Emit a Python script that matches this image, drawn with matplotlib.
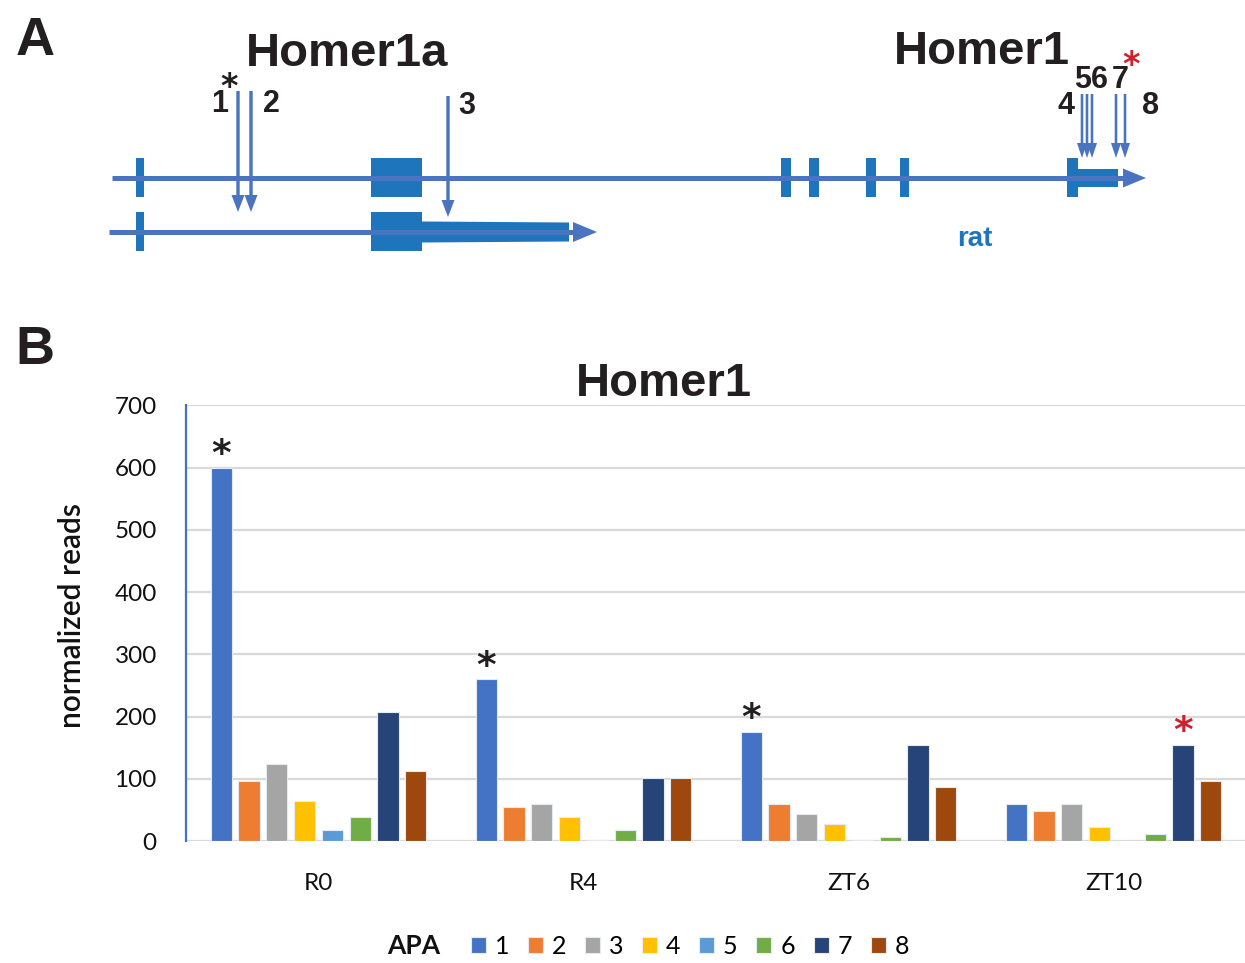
import matplotlib
matplotlib.use('Agg')
import matplotlib.pyplot as plt
from matplotlib.patches import Rectangle, Polygon
import numpy as np

# mathtext only used for tight boxes around the small labels / asterisks
plt.rcParams['mathtext.fontset'] = 'custom'
plt.rcParams['mathtext.bf'] = 'Liberation Sans:bold'
plt.rcParams['mathtext.rm'] = 'Liberation Sans'
plt.rcParams['mathtext.sf'] = 'DejaVu Sans:bold'

# ---- Panel B data: normalized reads per APA site and time point ----
conditions = ['R0', 'R4', 'ZT6', 'ZT10']
apa_sites = ['1', '2', '3', '4', '5', '6', '7', '8']
apa1 = [600, 260, 176, 59]
apa2 = [96, 55, 59, 49]
apa3 = [123, 59, 44, 59]
apa4 = [64, 39, 28, 22]
apa5 = [18, 2, 2, 0]
apa6 = [39, 18, 6, 12]
apa7 = [207, 102, 155, 155]
apa8 = [112, 102, 86, 96]
series = [apa1, apa2, apa3, apa4, apa5, apa6, apa7, apa8]
colors = ['#4472C4', '#ED7D31', '#A5A5A5', '#FFC000',
          '#5B9BD5', '#70AD47', '#264478', '#9E480E']
# (condition index, site index, star colour)
stars = [(0, 0, '#231f20'), (1, 0, '#231f20'), (2, 0, '#231f20'), (3, 6, '#d0202e')]

# ---- Panel A: gene model (pixel coordinates of the schematic) ----
line_col = '#4a74bf'
exon_col = '#1f75bc'
top_y, low_y = 178, 232
top_exons = [(136, 8), (371, 51), (781, 10), (809, 10), (866, 10), (900, 9), (1067, 11)]
low_exons = [(136, 8), (371, 51)]
apa_arrows = [(238, 91, 212), (251, 91, 212), (448, 96, 217),
              (1082, 94, 158), (1087, 94, 158), (1092, 94, 158),
              (1116, 94, 158), (1125, 94, 158)]
site_labels = [('1', 220, 103), ('2', 271, 103), ('3', 467, 106), ('4', 1066, 106),
               ('5', 1083, 79), ('6', 1099, 79), ('7', 1120, 79), ('8', 1150, 106)]

W, H = 1245, 963
fig = plt.figure(figsize=(W / 100, H / 100), dpi=100)

axA = fig.add_axes([0, 0, 1, 1])
axA.set_xlim(0, W)
axA.set_ylim(H, 0)
axA.axis('off')

bold = dict(family='Liberation Sans', weight='bold', color='#231f20')
STAR = '$\\mathsf{\u204e}$'   # low asterisk: its box hugs the glyph

# intron lines
axA.plot([112, 1125], [top_y, top_y], color=line_col, lw=3.6, solid_capstyle='butt')
axA.plot([109, 575], [low_y, low_y], color=line_col, lw=3.6, solid_capstyle='butt')
# exons
for x, w in top_exons:
    axA.add_patch(Rectangle((x, top_y - 19.5), w, 39, color=exon_col, lw=0))
for x, w in low_exons:
    axA.add_patch(Rectangle((x, low_y - 19.5), w, 39, color=exon_col, lw=0))
# 3' UTR blocks
axA.add_patch(Rectangle((1078, top_y - 9), 40, 18, color=exon_col, lw=0))
axA.add_patch(Polygon([(422, low_y - 10.5), (569, low_y - 9.5), (569, low_y + 9.5), (422, low_y + 10.5)],
                      color=exon_col, lw=0))
# direction arrow heads
axA.add_patch(Polygon([(1123, top_y - 9.5), (1146, top_y), (1123, top_y + 9.5)], color=line_col, lw=0))
axA.add_patch(Polygon([(573, low_y - 10), (597, low_y), (573, low_y + 10)], color=line_col, lw=0))

# APA site arrows
for i, (x, y0, y1) in enumerate(apa_arrows):
    small = i >= 3
    axA.arrow(x, y0, 0, y1 - y0, width=2.6 if small else 3.4,
              head_width=10 if small else 13, head_length=15 if small else 17,
              length_includes_head=True, color=line_col, lw=0)
for t, x, y in site_labels:
    axA.text(x, y, r'$\mathbf{%s}$' % t, ha='center', va='center', fontsize=22, color='#231f20')
axA.text(229, 79, STAR, ha='center', va='center', fontsize=24, color='#231f20')
axA.text(1131, 56, STAR, ha='center', va='center', fontsize=24, color='#d0202e')

axA.text(347, 54, 'Homer1a', ha='center', va='center', fontsize=34, **bold)
axA.text(982, 52, 'Homer1', ha='center', va='center', fontsize=34, **bold)
axA.text(975, 239, 'rat', ha='center', va='center', fontsize=20, family='Liberation Sans',
         weight='bold', color=exon_col)

axA.text(35, 41, 'A', ha='center', va='center', fontsize=39, **bold)
axA.text(35, 350, 'B', ha='center', va='center', fontsize=39, **bold)
axA.text(664, 384, 'Homer1', ha='center', va='center', fontsize=34, **bold)

# ---- Panel B bar chart ----
ax = fig.add_axes([186 / W, 1 - 841 / H, 1060 / W, (841 - 405.5) / H])
x = np.arange(len(conditions))
pitch = 0.105
bw = 0.08
bars = []
for i, vals in enumerate(series):
    b = ax.bar(x + (i - 3.5) * pitch, vals, bw, color=colors[i],
               edgecolor='#e4e9f2', linewidth=0.8, label=apa_sites[i], zorder=2)
    bars.append(b)

for ci, si, col in stars:
    ax.annotate(STAR, (x[ci] + (si - 3.5) * pitch, series[si][ci]), xytext=(0, 16),
                textcoords='offset points', ha='center', va='center',
                fontsize=27, color=col)

ax.set_xlim(-0.5, 3.5)
ax.set_ylim(0, 700)
ax.set_yticks(range(0, 701, 100))
ax.set_xticks(x)
ax.set_xticklabels(conditions)
ax.yaxis.grid(True, color='#d9d9d9', lw=1.6)
ax.set_axisbelow(True)
for s in ['top', 'right', 'bottom']:
    ax.spines[s].set_visible(False)
ax.spines['left'].set_color('#4472C4')
ax.spines['left'].set_linewidth(1.6)
ax.tick_params(length=0)
ax.tick_params(axis='y', pad=21, labelsize=17.5)
ax.tick_params(axis='x', pad=23, labelsize=17.5)
for lab in ax.get_xticklabels() + ax.get_yticklabels():
    lab.set_family('Lato')
    lab.set_color('#111111')

fig.text(72 / W, 1 - 616 / H, 'normalized reads', rotation=90, ha='center', va='center',
         fontsize=21.5, family='Lato', weight='semibold', color='#111111')

# legend: "APA" label + one row of squares
fig.text(414 / W, 1 - 946 / H, 'APA', ha='center', va='center', fontsize=19,
         family='Lato', weight='bold', color='#111111')
fig.legend(bars, apa_sites, ncol=8, loc='center', bbox_to_anchor=(690 / W, 1 - 946 / H),
           frameon=False, prop={'family': 'Lato', 'size': 18},
           handlelength=0.6, handleheight=0.6, handletextpad=0.35, columnspacing=0.75)

plt.savefig('out.png', dpi=100)
